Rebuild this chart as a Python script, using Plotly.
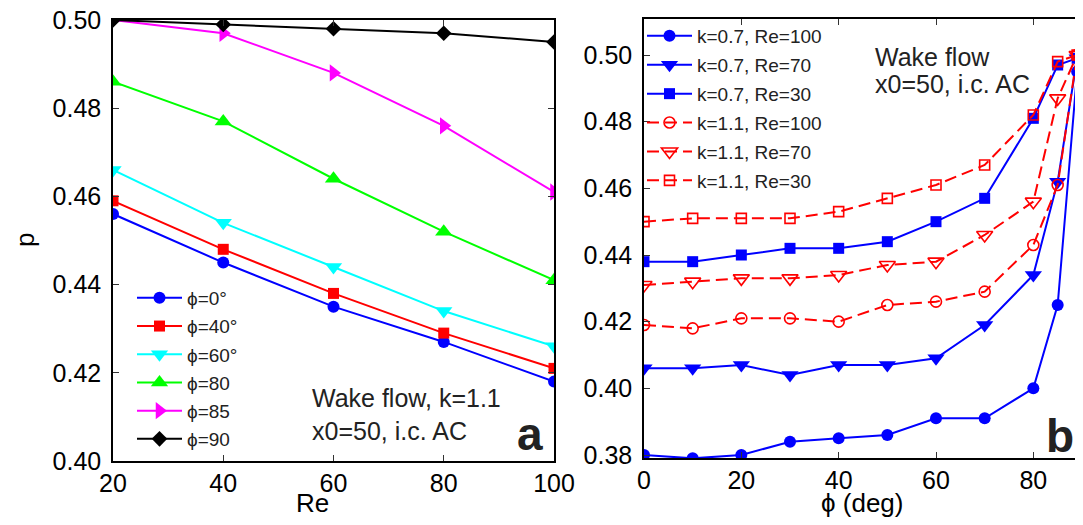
import plotly.graph_objects as go

# ---------------- data ----------------
Re = [20, 40, 60, 80, 100]
p_phi0 = [0.456, 0.445, 0.435, 0.427, 0.418]
p_phi40 = [0.459, 0.448, 0.438, 0.429, 0.421]
p_phi60 = [0.466, 0.454, 0.444, 0.434, 0.426]
p_phi80 = [0.486, 0.477, 0.464, 0.452, 0.441]
p_phi85 = [0.500, 0.497, 0.488, 0.476, 0.461]
p_phi90 = [0.500, 0.499, 0.498, 0.497, 0.495]
left_names = ["ϕ=0°", "ϕ=40°", "ϕ=60°", "ϕ=80", "ϕ=85", "ϕ=90"]

phi = [0, 10, 20, 30, 40, 50, 60, 70, 80, 85, 89]
k07_Re100 = [0.380, 0.379, 0.380, 0.384, 0.385, 0.386, 0.391, 0.391, 0.400, 0.425, 0.495]
k07_Re70 = [0.406, 0.406, 0.407, 0.404, 0.407, 0.407, 0.409, 0.419, 0.434, 0.462, 0.499]
k07_Re30 = [0.438, 0.438, 0.440, 0.442, 0.442, 0.444, 0.450, 0.457, 0.481, 0.497, 0.499]
k11_Re100 = [0.419, 0.418, 0.421, 0.421, 0.420, 0.425, 0.426, 0.429, 0.443, 0.461, 0.500]
k11_Re70 = [0.431, 0.432, 0.433, 0.433, 0.434, 0.437, 0.438, 0.446, 0.456, 0.487, 0.500]
k11_Re30 = [0.450, 0.451, 0.451, 0.451, 0.453, 0.457, 0.461, 0.467, 0.482, 0.498, 0.500]
right_names = ["k=0.7, Re=100", "k=0.7, Re=70", "k=0.7, Re=30",
               "k=1.1, Re=100", "k=1.1, Re=70", "k=1.1, Re=30"]

left_ticks_x = [20, 40, 60, 80, 100]
left_ticks_y = [0.40, 0.42, 0.44, 0.46, 0.48, 0.50]
right_ticks_x = [0, 20, 40, 60, 80]
right_ticks_y = [0.38, 0.40, 0.42, 0.44, 0.46, 0.48, 0.50]

# ---------------- layout geometry ----------------
# the page body adds an 8px offset; geometry below is given in page pixels
OFF = 8
W, H = 1083 - OFF, 525 - OFF
ML, MR, MT, MB = 113 - OFF, 1, 19 - OFF, 64
PW, PH = W - ML - MR, H - MT - MB


def px(x):
    return (x - OFF - ML) / PW


def py(y):
    return (H - MB - (y - OFF)) / PH


FONT = "Liberation Sans, Arial, Helvetica, sans-serif"

fig = go.Figure()

left_series = [p_phi0, p_phi40, p_phi60, p_phi80, p_phi85, p_phi90]
left_colors = ["#0000FF", "#FF0000", "#00FFFF", "#00FF00", "#FF00FF", "#000000"]
left_symbols = ["circle", "square", "triangle-down", "triangle-up", "triangle-right", "diamond"]
left_sizes = [12, 11, 15, 15, 15, 12]

for i, (vals, col, sym, sz, nm) in enumerate(zip(left_series, left_colors, left_symbols, left_sizes, left_names)):
    fig.add_trace(go.Scatter(
        x=Re, y=vals, mode="lines+markers", name=nm,
        line=dict(color=col, width=2),
        marker=dict(color=col, symbol=sym, size=sz, line=dict(width=0)),
        xaxis="x", yaxis="y", legend="legend", legendgroup="L%d" % i,
    ))

right_series = [k07_Re100, k07_Re70, k07_Re30, k11_Re100, k11_Re70, k11_Re30]
right_colors = ["#0000FF"] * 3 + ["#FF0000"] * 3
right_symbols = ["circle", "triangle-down", "square", "circle-open", "triangle-down-open", "square-open"]
right_sizes = [12, 15, 11, 11, 14, 10]
right_dash = ["solid"] * 3 + ["12px,6px"] * 3

for i, (vals, col, sym, sz, ds, nm) in enumerate(zip(right_series, right_colors, right_symbols, right_sizes, right_dash, right_names)):
    fig.add_trace(go.Scatter(
        x=phi, y=vals, mode="lines+markers", name=nm,
        line=dict(color=col, width=2, dash=ds),
        marker=dict(color=col, symbol=sym, size=sz, line=dict(width=1.6 if "open" in sym else 0, color=col)),
        xaxis="x2", yaxis="y2", legend="legend2", legendgroup="R%d" % i,
    ))

axis_common = dict(
    showline=True, linecolor="black", linewidth=1.5, mirror="ticks",
    ticks="inside", ticklen=6, tickwidth=1, tickcolor="#333333",
    showgrid=False, zeroline=False, automargin=False,
    ticklabeloverflow="allow",
    tickfont=dict(family=FONT, size=25, color="black"),
)

fig.update_layout(
    width=W, height=H,
    margin=dict(l=ML, r=MR, t=MT, b=MB),
    paper_bgcolor="white", plot_bgcolor="white",
    font=dict(family=FONT, color="black"),
    xaxis=dict(domain=[px(113), px(554)], range=[20, 100], tickvals=left_ticks_x,
               anchor="y", ticklabelstandoff=-1, **axis_common),
    yaxis=dict(domain=[py(461), py(20)], range=[0.40, 0.50], tickvals=left_ticks_y,
               tickformat=".2f", anchor="x", ticklabelstandoff=5, **axis_common),
    xaxis2=dict(domain=[px(644), px(1082)], range=[0, 90], tickvals=right_ticks_x,
                anchor="y2", ticklabelstandoff=-1, **axis_common),
    yaxis2=dict(domain=[py(458), py(19)], range=[0.3791, 0.5108], tickvals=right_ticks_y,
                tickformat=".2f", anchor="x2", ticklabelstandoff=5, **axis_common),
    legend=dict(x=px(132), y=py(279), xanchor="left", yanchor="top",
                bgcolor="rgba(0,0,0,0)", borderwidth=0, itemwidth=45,
                font=dict(family=FONT, size=19, color="#222222"),
                traceorder="grouped", tracegroupgap=0.5),
    legend2=dict(x=px(642), y=py(17), xanchor="left", yanchor="top",
                 bgcolor="rgba(0,0,0,0)", borderwidth=0, itemwidth=45,
                 font=dict(family=FONT, size=19, color="#222222"),
                 traceorder="grouped", tracegroupgap=1.2),
    showlegend=True,
)

title_font = dict(family=FONT, size=26, color="black")
fig.add_annotation(x=px(312), y=py(503), xref="paper", yref="paper", text="Re",
                   showarrow=False, xanchor="center", yanchor="middle", font=title_font)
fig.add_annotation(x=px(862), y=py(503), xref="paper", yref="paper", text="ϕ (deg)",
                   showarrow=False, xanchor="center", yanchor="middle", font=title_font)
fig.add_annotation(x=px(25), y=py(240), xref="paper", yref="paper", text="p", textangle=-90,
                   showarrow=False, xanchor="center", yanchor="middle", font=title_font)

ann_font = dict(family=FONT, size=25, color="#222222")
fig.add_annotation(x=px(310), y=py(398), xref="paper", yref="paper", text="Wake flow, k=1.1",
                   showarrow=False, xanchor="left", yanchor="middle", font=ann_font)
fig.add_annotation(x=px(310), y=py(431), xref="paper", yref="paper", text="x0=50, i.c. AC",
                   showarrow=False, xanchor="left", yanchor="middle", font=ann_font)
fig.add_annotation(x=px(873), y=py(57), xref="paper", yref="paper", text="Wake flow",
                   showarrow=False, xanchor="left", yanchor="middle", font=ann_font)
fig.add_annotation(x=px(873), y=py(84), xref="paper", yref="paper", text="x0=50, i.c. AC",
                   showarrow=False, xanchor="left", yanchor="middle", font=ann_font)

big_font = dict(family=FONT, size=46, color="#222222")
fig.add_annotation(x=px(530), y=py(434), xref="paper", yref="paper", text="<b>a</b>",
                   showarrow=False, xanchor="center", yanchor="middle", font=big_font)
fig.add_annotation(x=px(1060), y=py(436), xref="paper", yref="paper", text="<b>b</b>",
                   showarrow=False, xanchor="center", yanchor="middle", font=big_font)

fig.write_html("out.html")
